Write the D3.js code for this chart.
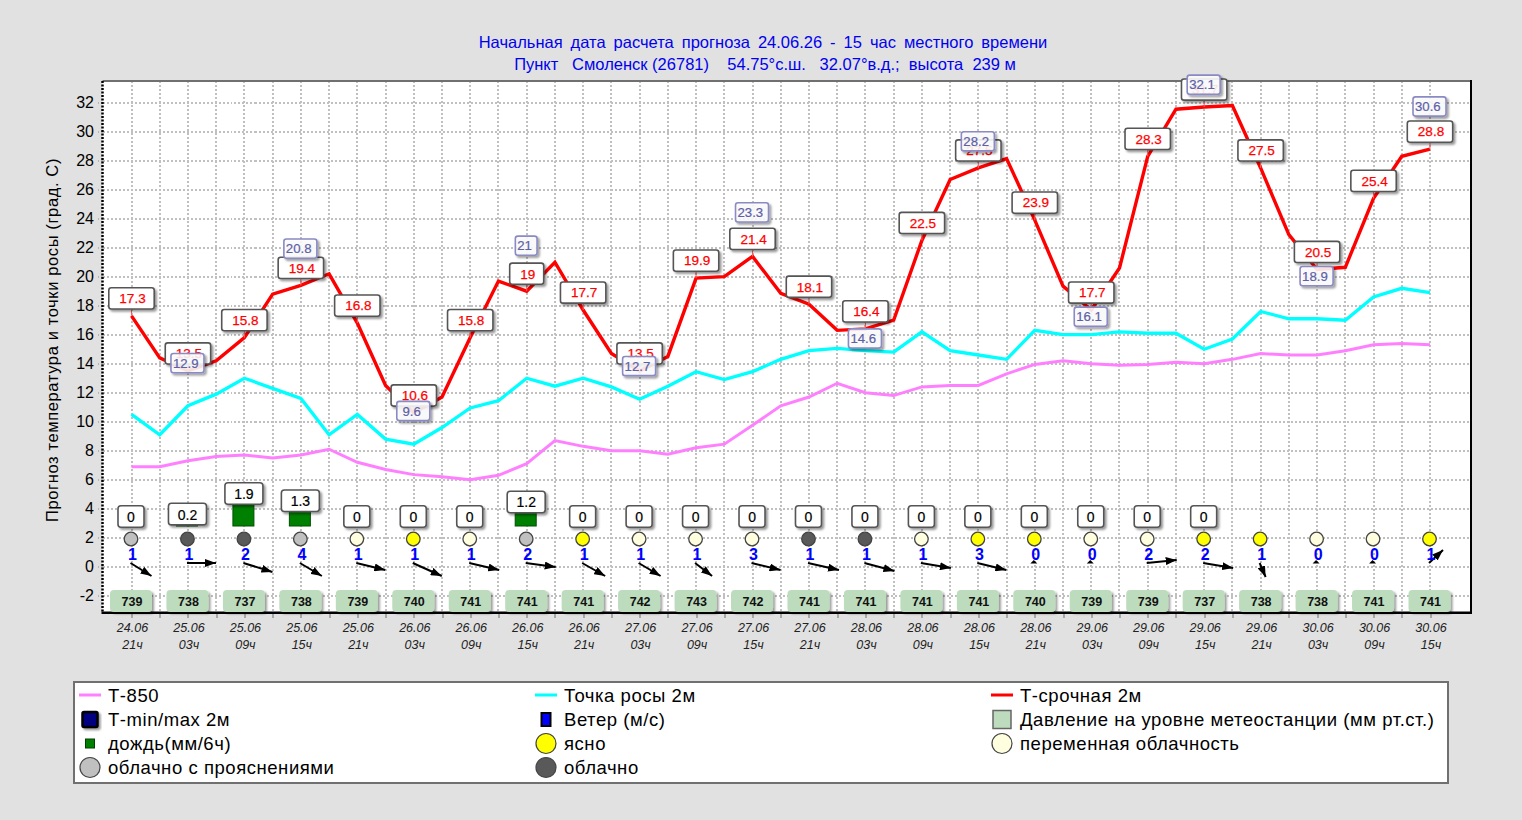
<!DOCTYPE html>
<html lang="ru"><head><meta charset="utf-8">
<script src="https://cdnjs.cloudflare.com/ajax/libs/d3/7.8.5/d3.min.js"></script>
<style>
html,body{margin:0;padding:0;background:#e1e1e1;overflow:hidden}
svg{display:block}
text{font-family:"Liberation Sans",Arial,sans-serif}
</style></head><body><svg id="c" width="1522" height="820"></svg>
<script>
// ---- data ----
const titleLines = ["Начальная дата расчета прогноза 24.06.26 - 15 час местного времени",
                    "Пункт   Смоленск (26781)    54.75°с.ш.   32.07°в.д.;  высота  239 м"];
const yTitle = "Прогноз температура и точки росы (град. С)";
const yTicks = [-2,0,2,4,6,8,10,12,14,16,18,20,22,24,26,28,30,32];
const dates = ["24.06","25.06","25.06","25.06","25.06","26.06","26.06","26.06","26.06","27.06","27.06","27.06","27.06","28.06","28.06","28.06","28.06","29.06","29.06","29.06","29.06","30.06","30.06","30.06"];
const hours = ["21ч","03ч","09ч","15ч","21ч","03ч","09ч","15ч","21ч","03ч","09ч","15ч","21ч","03ч","09ч","15ч","21ч","03ч","09ч","15ч","21ч","03ч","09ч","15ч"];
// 3-hourly series
const tSrochnaya = [17.3,14.4,13.5,14.2,15.8,18.8,19.4,20.2,16.8,12.5,10.6,11.7,15.8,19.7,19,21,17.7,14.7,13.5,14.5,19.9,20,21.4,18.85,18.1,16.3,16.4,17,22.5,26.7,27.5,28.15,23.9,19.35,17.7,20.6,28.3,31.55,31.7,31.8,27.5,22.9,20.5,20.65,25.4,28.3,28.8];
const tDew = [10.5,9.1,11.1,11.9,13,12.3,11.6,9.1,10.5,8.8,8.45,9.6,10.95,11.45,13,12.45,13,12.4,11.55,12.45,13.45,12.9,13.45,14.3,14.9,15.05,14.9,14.8,16.2,14.9,14.6,14.3,16.3,16,16,16.2,16.1,16.1,15,15.7,17.6,17.1,17.1,17,18.6,19.2,18.9];
const t850 = [6.9,6.9,7.3,7.6,7.7,7.5,7.7,8.1,7.2,6.7,6.35,6.2,6,6.3,7.1,8.7,8.3,8,8,7.75,8.2,8.45,9.75,11.1,11.7,12.65,12,11.8,12.4,12.5,12.5,13.3,13.95,14.2,14,13.9,13.95,14.1,14,14.3,14.7,14.6,14.6,14.9,15.3,15.4,15.3];
// 6-hourly series
const tExtreme = [null,12.9,null,20.8,null,9.6,null,21,null,12.7,null,23.3,null,14.6,null,28.2,null,16.1,null,32.1,null,18.9,null,30.6];
const rain = [0,0.2,1.9,1.3,0,0,0,1.2,0,0,0,0,0,0,0,0,0,0,0,0,null,null,null,null];
const sky = ["gray","dark","dark","gray","light","yellow","light","gray","yellow","light","light","light","dark","dark","light","yellow","yellow","light","light","yellow","yellow","light","light","yellow"];
const windSpeed = [1,1,2,4,1,1,1,2,1,1,1,3,1,1,1,3,0,0,2,2,1,0,0,1];
const windEast = [21,29,29,22,29,29,30,30,23,22,17,29,31,30,30,29,0,0,30,30,6,0,0,14];
const windSouth = [13,0,9,13,7,13,7,4,13,13,13,7,7,8,5,7,0,0,-3,5,14,0,0,-13];
const pressure = [739,738,737,738,739,740,741,741,741,742,743,742,741,741,741,741,740,739,739,737,738,738,741,741];
const legendRows = [
 [["line","#ff80ff","Т-850"],["line","#00ffff","Точка росы 2м"],["line","#ff0000","Т-срочная 2м"]],
 [["minmax","","Т-min/max 2м"],["wind","","Ветер (м/с)"],["press","","Давление на уровне метеостанции (мм рт.ст.)"]],
 [["rain","","дождь(мм/6ч)"],["circle","yellow","ясно"],["circle","light","переменная облачность"]],
 [["circle","gray","облачно с прояснениями"],["circle","dark","облачно"]]
];
const skyColor = {yellow:"#ffff00",light:"#ffffe0",gray:"#c0c0c0",dark:"#595959"};

// ---- scales ----
const svg = d3.select("#c");
const L=102.5,R=1471,T=81,B=612.7;
const x = d3.scaleLinear().domain([0,46]).range([131.5,1430]);
const x6 = i => x(i*2);
const y = d3.scaleLinear().domain([-2,32]).range([595.7,102.7]);
const rainY = d3.scaleLinear().domain([0,1]).range([527.3,515.2]);
const idx3 = d3.range(47);

const defs = svg.append("defs");
const sh = defs.append("filter").attr("id","sh").attr("x","-20%").attr("y","-20%").attr("width","150%").attr("height","150%");
sh.append("feDropShadow").attr("dx",2).attr("dy",2).attr("stdDeviation",1).attr("flood-color","#000").attr("flood-opacity",.4);
const mk = defs.append("marker").attr("id","ah").attr("markerUnits","userSpaceOnUse").attr("markerWidth",12).attr("markerHeight",8)
  .attr("refX",11).attr("refY",4).attr("orient","auto");
mk.append("path").attr("d","M0,0L11,4L0,8Z").attr("fill","#000");

// ---- title ----
svg.append("g").selectAll("text").data(titleLines).join("text")
  .attr("x",(d,i)=>763+2*i).attr("y",(d,i)=>48+i*22).attr("text-anchor","middle")
  .attr("font-size",16.5).attr("fill","#0000f0").style("white-space","pre")
  .style("word-spacing",(d,i)=>i?"0px":"3.4px").text(d=>d);
svg.append("text").attr("transform","translate(58,340) rotate(-90)").attr("text-anchor","middle")
  .attr("font-size",16.5).attr("letter-spacing",0.62).attr("fill","#000").text(yTitle);

// ---- plot ----
svg.append("rect").attr("x",L).attr("y",T).attr("width",R-L).attr("height",B-T).attr("fill","#fff");
const grid = svg.append("g").attr("stroke","#c0c0c0").attr("stroke-width",2).attr("stroke-dasharray","2,2").attr("shape-rendering","crispEdges");
grid.selectAll(".h").data(yTicks).join("line").attr("x1",L).attr("x2",R).attr("y1",d=>y(d)).attr("y2",d=>y(d));
grid.selectAll(".v").data(idx3).join("line").attr("x1",d=>x(d)).attr("x2",d=>x(d)).attr("y1",T).attr("y2",B);

const gy = svg.append("g").attr("transform",`translate(${L},0)`)
  .call(d3.axisLeft(y).tickValues(yTicks).tickSize(5).tickPadding(3.5).tickFormat(d=>String(d)));
gy.select(".domain").remove();
gy.selectAll("line").attr("stroke","#b4b4b4").attr("stroke-width",2).attr("stroke-dasharray","2,2").attr("shape-rendering","crispEdges");
gy.selectAll("text").attr("font-size",16).attr("fill","#000").attr("font-family","Liberation Sans");

const gx = svg.append("g").attr("transform",`translate(0,${B})`)
  .call(d3.axisBottom(x).tickValues(idx3).tickSize(5).tickFormat(""));
gx.select(".domain").remove();
gx.selectAll("line").attr("stroke","#a8a8a8").attr("stroke-width",2).attr("shape-rendering","crispEdges");

const xl = svg.append("g").attr("font-size",12.5).attr("font-style","italic").attr("fill","#222").attr("text-anchor","middle");
xl.selectAll(".d").data(dates).join("text").attr("x",(d,i)=>x6(i)+1).attr("y",632).text(d=>d);
xl.selectAll(".h").data(hours).join("text").attr("x",(d,i)=>x6(i)+1).attr("y",649).text(d=>d);

// frame
svg.append("line").attr("x1",L).attr("x2",R).attr("y1",T).attr("y2",T).attr("stroke","#707070").attr("stroke-width",2);
svg.append("line").attr("x1",R).attr("x2",R).attr("y1",T-1).attr("y2",B+1).attr("stroke","#000").attr("stroke-width",2);
svg.append("line").attr("x1",L-1).attr("x2",R+1).attr("y1",B).attr("y2",B).attr("stroke","#000").attr("stroke-width",2.5);
svg.append("line").attr("x1",L).attr("x2",L).attr("y1",T).attr("y2",B).attr("stroke","#000").attr("stroke-width",2.5).attr("stroke-dasharray","2,1.5");

// ---- lines ----
const line = d3.line().x((d,i)=>x(i)).y(d=>y(d));
[[t850,"#ff80ff",3],[tDew,"#00ffff",3.3],[tSrochnaya,"#ff0000",3.4]].forEach(([s,c,w])=>{
  svg.append("path").attr("d",line(s)).attr("fill","none").attr("stroke",c).attr("stroke-width",w).attr("stroke-linejoin","miter");
});

// ---- pressure ----
const pg = svg.append("g").selectAll("g").data(pressure).join("g").attr("transform",(d,i)=>`translate(${x6(i)-0.5},601)`);
pg.append("rect").attr("x",-21).attr("y",-11).attr("width",42).attr("height",22).attr("rx",4).attr("fill","#bddbbd").attr("filter","url(#sh)");
pg.append("text").attr("x",1).attr("y",4.5).attr("text-anchor","middle").attr("font-size",12.5).attr("font-weight","bold").attr("fill","#111").text(d=>d);

// ---- rain ----
const base = rainY(0)-1.3;
svg.append("g").selectAll("rect").data(rain.map((v,i)=>({v,i})).filter(d=>d.v>0)).join("rect")
  .attr("x",d=>x6(d.i)-11.5).attr("width",21).attr("y",d=>rainY(d.v)).attr("height",d=>base-rainY(d.v))
  .attr("fill","#008000").attr("stroke","#005000").attr("stroke-width",1);
const rg = svg.append("g").selectAll("g").data(rain.map((v,i)=>({v,i})).filter(d=>d.v!==null)).join("g")
  .attr("transform",d=>`translate(${x6(d.i)-0.5},${rainY(d.v)-10.8})`);
rg.append("rect").attr("x",d=>d.v?-19:-13).attr("width",d=>d.v?38:26).attr("y",-10.8).attr("height",21.6).attr("rx",3)
  .attr("fill","#fff").attr("stroke","#555").attr("stroke-width",1.6).attr("filter","url(#sh)");
rg.append("text").attr("text-anchor","middle").attr("y",5.5).attr("font-size",14).attr("fill","#000").attr("stroke","#000").attr("stroke-width",0.2).text(d=>d.v);

// ---- sky ----
svg.append("g").selectAll("circle").data(sky).join("circle").attr("cx",(d,i)=>x6(i)-0.5).attr("cy",539).attr("r",6.8)
  .attr("fill",d=>skyColor[d]).attr("stroke","#444").attr("stroke-width",1.3);

// ---- wind ----
const wg = svg.append("g");
windSpeed.forEach((s,i)=>{
  const x0=x6(i)-1, y0=563;
  if(windEast[i]===0&&windSouth[i]===0){
    wg.append("path").attr("d",`M${x0-3.5},${y0+0.5}L${x0+3.5},${y0+0.5}L${x0},${y0-3}Z`).attr("fill","#000");
  } else {
    wg.append("line").attr("x1",x0).attr("y1",y0).attr("x2",x0+windEast[i]).attr("y2",y0+windSouth[i])
      .attr("stroke","#000").attr("stroke-width",2).attr("marker-end","url(#ah)");
  }
});
svg.append("g").selectAll("text").data(windSpeed).join("text").attr("x",(d,i)=>x6(i)+1).attr("y",560)
  .attr("text-anchor","middle").attr("font-size",16).attr("font-weight","bold").attr("fill","#0000ff").text(d=>d);

// ---- temperature labels ----
const redIdx = d3.range(24);
const sg = svg.append("g");
sg.selectAll("line").data(redIdx).join("line").attr("x1",i=>x6(i)).attr("x2",i=>x6(i))
  .attr("y1",i=>y(tSrochnaya[i*2])).attr("y2",i=>y(tSrochnaya[i*2])-8).attr("stroke","#ff6060").attr("stroke-width",1);
const lg = svg.append("g").selectAll("g").data(redIdx).join("g")
  .attr("transform",i=>`translate(${x6(i)},${y(tSrochnaya[i*2])-17.5})`);
const redW = i => String(tSrochnaya[i*2]).length>2?45.4:34;
lg.append("rect").attr("x",i=>-redW(i)/2).attr("y",-10.6).attr("width",redW).attr("height",21.2).attr("rx",2.5)
  .attr("fill","#fff").attr("stroke","#555").attr("stroke-width",1.6).attr("filter","url(#sh)");
lg.append("text").attr("text-anchor","middle").attr("x",1).attr("y",4.8).attr("font-size",13.5).attr("fill","#ff0000").attr("stroke","#ff0000").attr("stroke-width",0.25)
  .text(i=>tSrochnaya[i*2]);

const eg = svg.append("g").selectAll("g").data(tExtreme.map((v,i)=>({v,i})).filter(d=>d.v!==null)).join("g")
  .attr("transform",d=>`translate(${x6(d.i)-0.5},${y(d.v)-16.5})`);
const extW = d => String(d.v).length>2?33:21.7;
eg.append("rect").attr("x",d=>-extW(d)/2).attr("y",-9.6).attr("width",extW).attr("height",19.2).attr("rx",2.5)
  .attr("fill","#ffffff").attr("fill-opacity",.85).attr("stroke","#8a8ac4").attr("stroke-width",1.6).attr("filter","url(#sh)");
eg.append("text").attr("text-anchor","middle").attr("x",-1.7).attr("y",4.7).attr("font-size",13.2).attr("fill","#5c60a8").attr("stroke","#5c60a8").attr("stroke-width",0.2).text(d=>d.v);

// ---- legend ----
svg.append("rect").attr("x",74).attr("y",682).attr("width",1374).attr("height",101).attr("fill","#fff").attr("stroke","#707070").attr("stroke-width",2);
const colX=[90,546,1002], rowY=[695,719.5,743.5,767.5];
legendRows.forEach((row,r)=>row.forEach(([kind,c,label],k)=>{
  const g=svg.append("g").attr("transform",`translate(${colX[k]},${rowY[r]})`);
  if(kind==="line") g.append("line").attr("x1",-11).attr("x2",11).attr("stroke",c).attr("stroke-width",3);
  if(kind==="minmax") g.append("rect").attr("x",-7.5).attr("y",-7.5).attr("width",15).attr("height",15).attr("rx",1.5).attr("fill","#000080").attr("stroke","#000").attr("stroke-width",2.5).attr("filter","url(#sh)");
  if(kind==="wind") g.append("rect").attr("x",-4.5).attr("y",-6.5).attr("width",9).attr("height",13).attr("fill","#0000ff").attr("stroke","#000").attr("stroke-width",2);
  if(kind==="press") g.append("rect").attr("x",-9).attr("y",-9).attr("width",18).attr("height",18).attr("fill","#bddbbd").attr("stroke","#666").attr("stroke-width",1.5);
  if(kind==="rain") g.append("rect").attr("x",-4.5).attr("y",-4.5).attr("width",9).attr("height",9).attr("fill","#008000").attr("stroke","#004000").attr("stroke-width",1);
  if(kind==="circle") g.append("circle").attr("r",10).attr("fill",skyColor[c]).attr("stroke","#444").attr("stroke-width",1.2);
  g.append("text").attr("x",18).attr("y",6.5).attr("font-size",18.5).attr("letter-spacing",0.55).attr("fill","#000").text(label);
}));
</script></body></html>
